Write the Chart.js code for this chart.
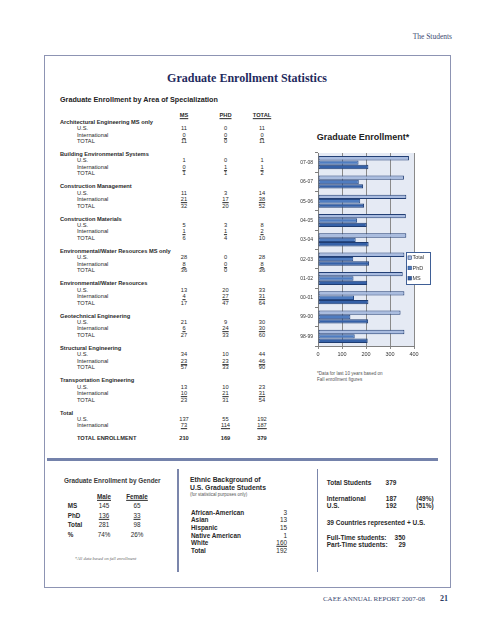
<!DOCTYPE html>
<html><head><meta charset="utf-8">
<script src="https://cdn.jsdelivr.net/npm/chart.js@4/dist/chart.umd.min.js"></script>
<style>
html,body{margin:0;padding:0;background:#fff;}
#page{position:relative;width:495px;height:640px;overflow:hidden;font-family:"Liberation Sans",Arial,sans-serif;color:#222;}
.t{position:absolute;white-space:nowrap;line-height:1;}
.u{text-decoration:underline;}
#frame{position:absolute;left:44px;top:55px;width:407px;height:533px;border:1px solid #8d94b3;box-sizing:border-box;}
#rule{position:absolute;left:47px;top:458px;width:391px;height:2.5px;background:#7482ab;}
.vdiv{position:absolute;width:1.5px;background:#7b86ab;top:469px;height:103px;}
#chartWrap{position:absolute;left:296px;top:148px;width:140px;height:212px;}
</style></head>
<body><div id="page">
<div id="frame"></div>
<div id="rule"></div>
<div class="vdiv" style="left:177px"></div>
<div class="vdiv" style="left:316.5px"></div>
<div id="chartWrap"><canvas id="c" width="140" height="212"></canvas></div>
</div>
<script>
// ---- chart data ----
const years = ['07-08','06-07','05-06','04-05','03-04','02-03','01-02','00-01','99-00','98-99'];
const totalVals = [379,358,368,366,368,360,353,360,344,360];
const phdVals   = [169,170,176,163,157,147,148,150,135,153];
const msVals    = [210,188,192,203,211,213,205,210,209,207];
const seriesNames = ['Total','PhD','MS'];

// ---- table data ----
const specNames = ['Architectural Engineering MS only','Building Environmental Systems','Construction Management','Construction Materials','Environmental/Water Resources MS only','Environmental/Water Resources','Geotechnical Engineering','Structural Engineering','Transportation Engineering'];
const specUS    = [[11,0,11],[1,0,1],[11,3,14],[5,3,8],[28,0,28],[13,20,33],[21,9,30],[34,10,44],[13,10,23]];
const specIntl  = [[0,0,0],[0,1,1],[21,17,38],[1,1,2],[8,0,8],[4,27,31],[6,24,30],[23,23,46],[10,21,31]];
const specTotal = [[11,0,11],[1,1,2],[32,20,52],[6,4,10],[36,0,36],[17,47,64],[27,33,60],[57,33,90],[23,31,54]];
const sumUS = [137,55,192], sumIntl = [73,114,187], sumAll = [210,169,379];
const genderRows = ['MS','PhD','Total','%'];
const maleVals = ['145','136','281','74%'];
const femaleVals = ['65','33','98','26%'];
const ethnicNames = ['African-American','Asian','Hispanic','Native American','White','Total'];
const ethnicVals = ['3','13','15','1','160','192'];

const page = document.getElementById('page');
function T(x,y,s,o){
  o = o||{};
  const d = document.createElement('div');
  d.className = 't' + (o.u?' u':'');
  d.textContent = s;
  d.style.left = x+'px'; d.style.top = y+'px';
  const a = o.a||'l';
  d.style.transform = 'translate(' + (a==='l'?'0':(a==='c'?'-50%':'-100%')) + ',-50%)';
  d.style.fontSize = (o.s||5.7)+'px';
  if (o.b) d.style.fontWeight = 'bold';
  if (o.f) d.style.fontFamily = o.f;
  if (o.i) d.style.fontStyle = 'italic';
  d.style.color = o.c||'#2a2a2a';
  page.appendChild(d);
}
const SERIF = '"Liberation Serif","Times New Roman",serif';
T(452,37,'The Students',{a:'r',s:7.5,f:SERIF,c:'#3d4a70'});
T(247,78,'Graduate Enrollment Statistics',{a:'c',s:12,b:1,f:SERIF,c:'#1f2b5e'});
T(60,100,'Graduate Enrollment by Area of Specialization',{s:7.2,b:1,c:'#222'});
const colX = [184,225.5,262];
['MS','PHD','TOTAL'].forEach((h,i)=>T(colX[i],116,h,{a:'c',b:1,u:1}));
specNames.forEach((n,k)=>{
  const y0 = 122.7 + 32.33*k;
  T(60,y0,n,{b:1});
  const rows=[['U.S.',specUS[k],false],['International',specIntl[k],true],['TOTAL',specTotal[k],false]];
  rows.forEach((r,j)=>{
    const y = y0 + 6.4*(j+1);
    T(77,y,r[0]);
    r[1].forEach((v,i)=>T(colX[i],y,String(v),{a:'c',u:r[2]}));
  });
});
T(60,413.7,'Total',{b:1});
T(77,420,'U.S.'); sumUS.forEach((v,i)=>T(colX[i],420,String(v),{a:'c'}));
T(77,426.4,'International'); sumIntl.forEach((v,i)=>T(colX[i],426.4,String(v),{a:'c',u:1}));
T(77,439.3,'TOTAL ENROLLMENT',{b:1}); sumAll.forEach((v,i)=>T(colX[i],439.3,String(v),{a:'c',b:1}));

// chart title and note
T(363,137.3,'Graduate Enrollment*',{a:'c',s:9,b:1,c:'#222'});
T(317,373.5,'*Data for last 10 years based on',{s:4.6,c:'#555'});
T(317,380.3,'Fall enrollment figures',{s:4.6,c:'#555'});

// gender
T(64,480.7,'Graduate Enrollment by Gender',{s:6.4,b:1,c:'#3a3a3a'});
T(104,496.7,'Male',{a:'c',s:6.3,b:1,u:1});
T(137,496.7,'Female',{a:'c',s:6.3,b:1,u:1});
genderRows.forEach((r,i)=>{
  const y=[506,515.7,525.3,535.3][i];
  T(67.7,y,r,{s:6.3,b:1});
  T(104,y,maleVals[i],{a:'c',s:6.3,u:i===1});
  T(137,y,femaleVals[i],{a:'c',s:6.3,u:i===1});
});
T(105.5,559,'*All data based on fall enrollment',{a:'c',s:4.5,i:1,f:SERIF,c:'#666'});

// ethnic
T(190,480,'Ethnic Background of',{s:6.8,b:1});
T(190,487.6,'U.S. Graduate Students',{s:6.8,b:1});
T(190,495,'(for statistical purposes only)',{s:4.5,c:'#555'});
ethnicNames.forEach((n,i)=>{
  const y=[512.7,520.3,528,535.7,543.3,551.3][i];
  T(191,y,n,{s:6.4,b:1});
  T(287,y,ethnicVals[i],{a:'r',s:6.4,u:i===4});
});

// summary
T(326.7,483.3,'Total Students',{s:6.5,b:1});
T(391,483.3,'379',{a:'c',s:6.5,b:1});
T(326.7,499,'International',{s:6.5,b:1});
T(391.3,499,'187',{a:'c',s:6.5,b:1});
T(425,499,'(49%)',{a:'c',s:6.5,b:1});
T(326.7,505.7,'U.S.',{s:6.5,b:1});
T(391.3,505.7,'192',{a:'c',s:6.5,b:1});
T(425,505.7,'(51%)',{a:'c',s:6.5,b:1});
T(326.7,522.7,'39 Countries represented + U.S.',{s:6.5,b:1});
T(326.7,538.3,'Full-Time students:',{s:6.5,b:1});
T(400,538.3,'350',{a:'c',s:6.5,b:1});
T(326.7,545,'Part-Time students:',{s:6.5,b:1});
T(402,545,'29',{a:'c',s:6.5,b:1});

// footer
T(425,599.3,'CAEE ANNUAL REPORT 2007-08',{a:'r',s:7,f:SERIF,c:'#3b4a72'});
T(444,599.3,'21',{a:'c',s:8,b:1,f:SERIF,c:'#2b3a62'});

// ---- chart ----
const bgPlugin = {id:'bg',beforeDraw(c){const a=c.chartArea,x=c.ctx;x.save();x.fillStyle='#e5eaf4';x.fillRect(a.left,a.top,a.right-a.left,a.bottom-a.top);x.restore();}};
const legendPlugin = {id:'lg',afterDraw(c){
  const ctx=c.ctx,a=c.chartArea;const x=a.right-8,y=a.top+99,w=24,h=32;
  ctx.save();
  ctx.fillStyle='#fff';ctx.fillRect(x,y,w,h);
  ctx.strokeStyle='#3f5f96';ctx.lineWidth=1;ctx.strokeRect(x+0.5,y+0.5,w,h);
  c.data.datasets.forEach((d,i)=>{
    const yy=y+5.7+i*10.3;
    ctx.fillStyle=d.backgroundColor;ctx.fillRect(x+2,yy-1.8,3.5,3.5);
    ctx.strokeStyle=d.borderColor;ctx.lineWidth=0.6;ctx.strokeRect(x+2,yy-1.8,3.5,3.5);
    ctx.fillStyle='#333';ctx.font='5.5px "Liberation Sans", Arial';ctx.textBaseline='middle';
    ctx.fillText(d.label,x+6.5,yy);
  });
  ctx.restore();
}};
new Chart(document.getElementById('c'),{
  type:'bar',
  data:{labels:years,datasets:[
    {label:seriesNames[0],data:totalVals,backgroundColor:'#a9bce0',borderColor:'#223f75',borderWidth:1},
    {label:seriesNames[1],data:phdVals,backgroundColor:'#4f7cc0',borderColor:'#274a85',borderWidth:1},
    {label:seriesNames[2],data:msVals,backgroundColor:'#3561a8',borderColor:'#1e3c72',borderWidth:1}
  ]},
  options:{
    indexAxis:'y',responsive:false,animation:false,devicePixelRatio:1,
    layout:{padding:{top:4,right:22,left:0,bottom:0}},
    datasets:{bar:{categoryPercentage:0.68,barPercentage:1,borderSkipped:false}},
    plugins:{legend:{display:false},tooltip:{enabled:false}},
    scales:{
      x:{min:0,max:400,ticks:{stepSize:100,font:{size:5.5,family:'"Liberation Sans", Arial'},color:'#333',padding:2},
         grid:{color:'#8a8a8a',lineWidth:1,tickLength:3},border:{color:'#7f7f7f'},
         afterFit(s){s.height=14;}},
      y:{ticks:{font:{size:5,family:'"Liberation Sans", Arial'},color:'#333',padding:2},
         grid:{drawOnChartArea:false,tickLength:3,color:'#7f7f7f',offset:true},border:{color:'#7f7f7f'},
         afterFit(s){s.width=22;}}
    }
  },
  plugins:[bgPlugin,legendPlugin]
});
</script>
</body></html>
